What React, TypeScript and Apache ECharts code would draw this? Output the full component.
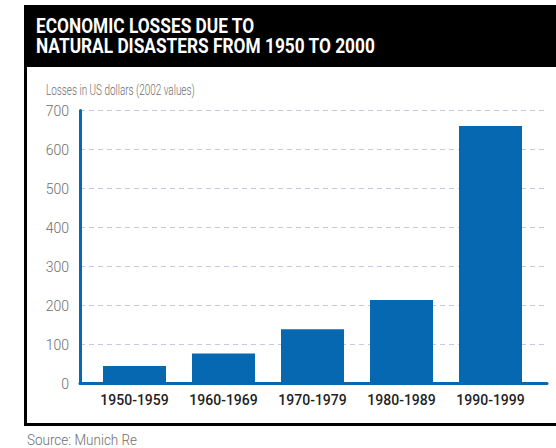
import React, { useEffect, useRef } from "react";
import * as echarts from "echarts";

const categories = ["1950-1959", "1960-1969", "1970-1979", "1980-1989", "1990-1999"];
const losses = [45, 77, 139, 214, 660];
const yMin = 0;
const yMax = 700;
const yInterval = 100;
const titleLines = ["ECONOMIC LOSSES DUE TO", "NATURAL DISASTERS FROM 1950 TO 2000"];
const subtitle = "Losses in US dollars (2002 values)";
const source = "Source: Munich Re";

const BLUE = "#0568b1";

export default function App() {
  const ref = useRef<HTMLDivElement>(null);
  useEffect(() => {
    if (!ref.current) return;
    const chart = echarts.init(ref.current, null, { renderer: "svg" });
    const top = 110.5;
    const height = 273;
    const titleStyle = {
      fill: "#ffffff",
      fontFamily: "Roboto",
      fontWeight: "bold",
      fontSize: 20,
      verticalAlign: "middle",
    };
    chart.setOption({
      animation: false,
      backgroundColor: "#ffffff",
      grid: [
        { left: 80, top, width: 467, height },
        { left: 90, top, width: 445, height },
      ],
      xAxis: [
        {
          type: "value",
          gridIndex: 0,
          min: 0,
          max: 1,
          axisLine: { show: true, lineStyle: { color: BLUE, width: 3 } },
          axisTick: { show: false },
          axisLabel: { show: false },
          splitLine: { show: false },
        },
        {
          type: "category",
          gridIndex: 1,
          data: categories,
          axisLine: { show: false },
          axisTick: { show: false },
          axisLabel: {
            margin: 9,
            color: "#222222",
            fontFamily: "Roboto",
            fontWeight: 500,
            fontSize: 14,
          },
        },
      ],
      yAxis: [
        {
          type: "value",
          gridIndex: 0,
          min: yMin,
          max: yMax,
          interval: yInterval,
          axisLine: { show: true, lineStyle: { color: BLUE, width: 3 } },
          axisTick: { show: false },
          axisLabel: {
            margin: 11,
            color: "#6e6e6e",
            fontFamily: "Roboto",
            fontWeight: 300,
            fontSize: 14,
          },
          splitLine: {
            show: true,
            lineStyle: { color: "#c5c9e6", type: [5, 4], width: 1.2 },
          },
        },
        {
          type: "value",
          gridIndex: 1,
          min: yMin,
          max: yMax,
          interval: yInterval,
          show: false,
          splitLine: { show: false },
        },
      ],
      series: [
        {
          type: "bar",
          xAxisIndex: 1,
          yAxisIndex: 1,
          data: losses,
          barWidth: 63,
          itemStyle: { color: BLUE },
        },
      ],
      graphic: [
        {
          type: "rect",
          silent: true,
          shape: { x: 24, y: 5, width: 532, height: 62 },
          style: { fill: "#000000" },
        },
        {
          type: "rect",
          silent: true,
          shape: { x: 24, y: 5, width: 3, height: 421 },
          style: { fill: "#000000" },
        },
        {
          type: "rect",
          silent: true,
          shape: { x: 24, y: 423, width: 532, height: 3 },
          style: { fill: "#000000" },
        },
        {
          type: "text",
          x: 36,
          y: 26.5,
          scaleX: 0.865,
          style: { ...titleStyle, text: titleLines[0] },
        },
        {
          type: "text",
          x: 36,
          y: 46.5,
          scaleX: 0.865,
          style: { ...titleStyle, text: titleLines[1] },
        },
        {
          type: "text",
          x: 46,
          y: 90,
          scaleX: 0.71,
          style: {
            text: subtitle,
            fill: "#6e6e6e",
            fontFamily: "Roboto",
            fontWeight: 300,
            fontSize: 14,
            verticalAlign: "middle",
          },
        },
        {
          type: "text",
          x: 27,
          y: 440,
          scaleX: 0.9,
          style: {
            text: source,
            fill: "#6e6e6e",
            fontFamily: "Roboto",
            fontWeight: 300,
            fontSize: 15,
            verticalAlign: "middle",
          },
        },
      ],
    });
    return () => chart.dispose();
  }, []);
  return (
    <div
      ref={ref}
      style={{ position: "fixed", left: 0, top: 0, width: 556, height: 448 }}
    />
  );
}
